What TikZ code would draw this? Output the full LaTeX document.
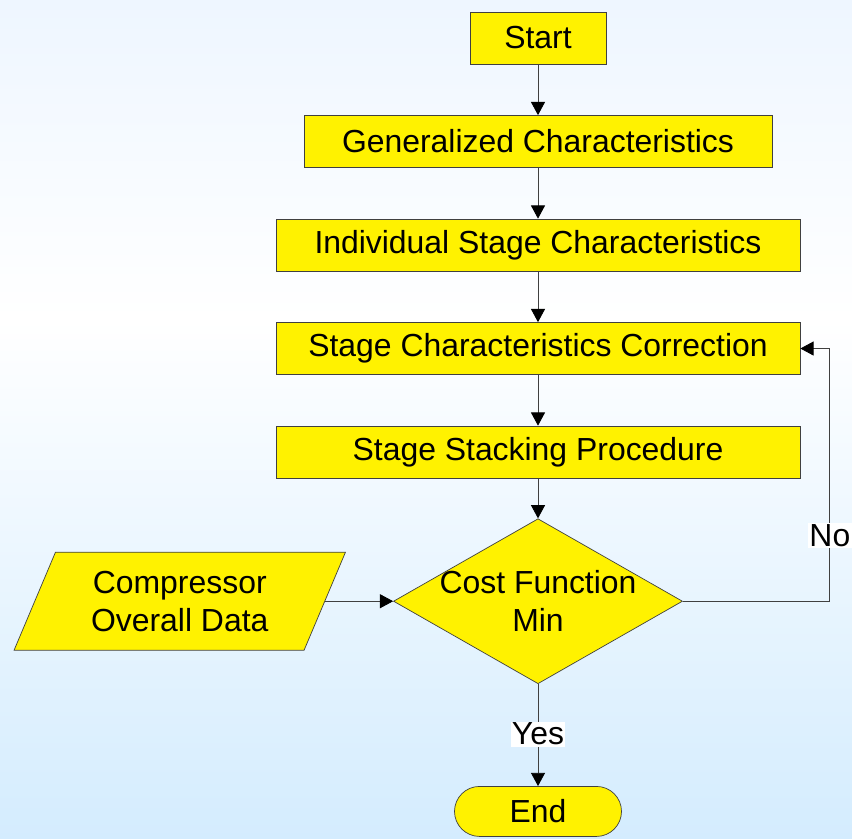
\documentclass[tikz,border=0pt]{standalone}
\usepackage{fontspec}
\setmainfont{Liberation Sans}
\usepackage{tikz}
\usetikzlibrary{arrows.meta,shapes,positioning,calc,backgrounds}
\definecolor{bgtop}{RGB}{238,246,255}
\definecolor{bgbot}{RGB}{212,236,254}
\definecolor{edgegray}{RGB}{64,64,64}

\begin{document}
\begin{tikzpicture}[>={Triangle[length=0.33cm,width=0.35cm,color=black]},
node distance=1.27cm,
font=\fontsize{22.7}{27}\selectfont]
\tikzstyle{every node}=[text=black]
\tikzstyle{box}=[rectangle, fill=yellow, draw=edgegray, line width=0.5pt,
 minimum width=13.1cm, minimum height=1.3cm, inner sep=0pt]
\tikzstyle{flow}=[->, draw=edgegray, line width=0.6pt]
\tikzstyle{tag}=[fill=white, inner sep=1pt]

%background
\shade[top color=bgtop, bottom color=white] (0,0) rectangle (21.3,-8);
\shade[top color=white, bottom color=bgbot] (0,-8) rectangle (21.3,-20.95);
\useasboundingbox (0,0) rectangle (21.3,-20.95);

\node[box, minimum width=3.4cm] (start) at (13.45,-0.95) {Start};
\node[box, minimum width=11.7cm, below=of start] (gen) {Generalized Characteristics};
\node[box, below=of gen] (ind) {Individual Stage Characteristics};
\node[box, below=of ind] (corr) {Stage Characteristics Correction};
\node[box, below=of corr] (stack) {Stage Stacking Procedure};

\node[diamond, fill=yellow, draw=edgegray, line width=0.5pt, inner sep=0pt,
 minimum width=7.225cm, minimum height=4.125cm, below=1.0cm of stack,
 label={[align=center]center:Cost Function\\Min}] (cost) {};

\node[trapezium, trapezium left angle=64, trapezium right angle=116,
 trapezium stretches=true, fill=yellow, draw=edgegray, line width=0.5pt,
 minimum width=8.3cm, minimum height=2.45cm, inner sep=0pt, align=center,
 left=1.7cm of cost] (data) {Compressor\\Overall Data};

\node[rectangle, rounded corners=0.625cm, fill=yellow, draw=edgegray, line width=0.5pt,
 minimum width=4.175cm, minimum height=1.25cm, inner sep=0pt,
 below=2.55cm of cost] (end) {End};

\coordinate[right=3.675cm of cost.east] (loop);

\draw[flow] (start) -- (gen);
\draw[flow] (gen) -- (ind);
\draw[flow] (ind) -- (corr);
\draw[flow] (corr) -- (stack);
\draw[flow] (stack) -- (cost);
\draw[flow] (data.east) -- (cost.west);
\draw[flow] (cost) -- node[tag, pos=0.49] {Yes} (end);

%feedback
\draw[flow] (cost.east) -- (loop) |- node[tag, pos=0.13] {No} (corr.east);

\end{tikzpicture}
\end{document}
